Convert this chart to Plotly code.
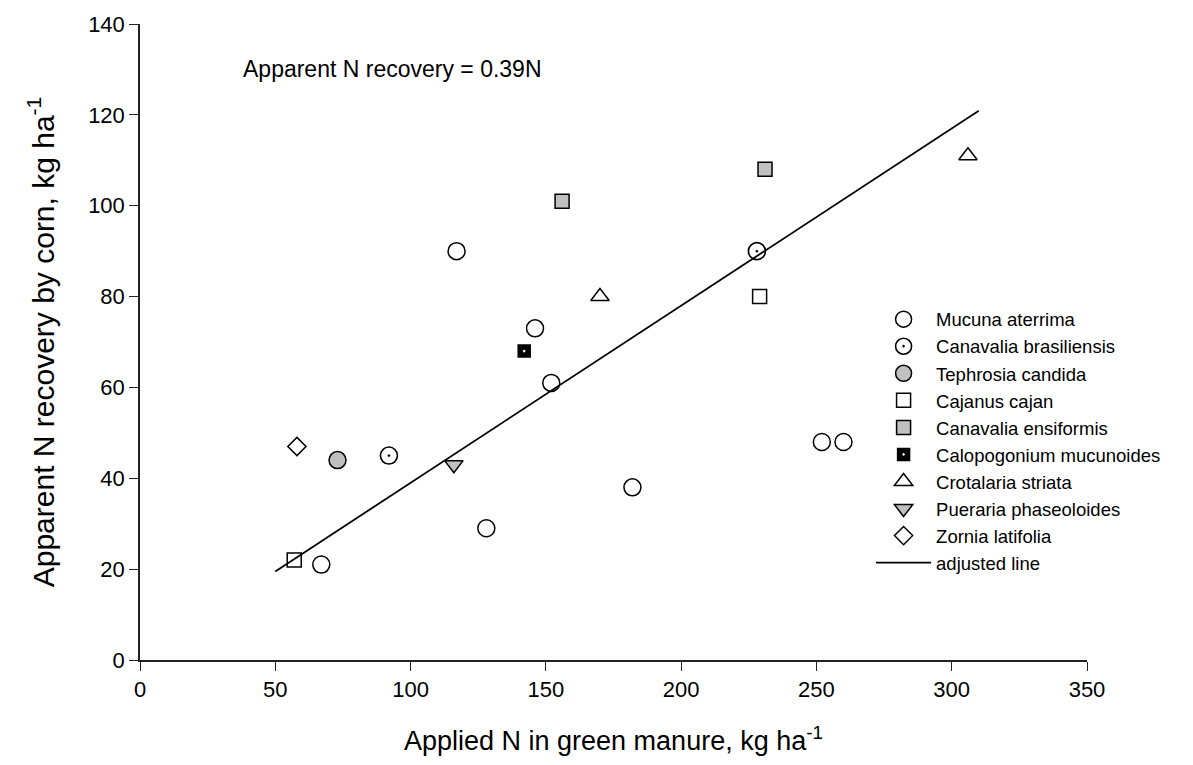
import plotly.graph_objects as go

# Applied N in green manure (kg/ha) and apparent N recovery by corn (kg/ha)
mucuna_x = [117, 146, 152, 67, 128, 182, 252, 260]
mucuna_y = [90, 73, 61, 21, 29, 38, 48, 48]
brasiliensis_x = [92, 228]
brasiliensis_y = [45, 90]
tephrosia_x = [73]
tephrosia_y = [44]
cajanus_x = [57, 229]
cajanus_y = [22, 80]
ensiformis_x = [156, 231]
ensiformis_y = [101, 108]
calopogonium_x = [142]
calopogonium_y = [68]
crotalaria_x = [170, 306]
crotalaria_y = [80, 111]
pueraria_x = [116]
pueraria_y = [43]
zornia_x = [58]
zornia_y = [47]

# Fitted line through the origin: recovery = slope * N
slope = 0.39
fit_x = [50, 310]
fit_y = [slope * v for v in fit_x]

x_ticks = [0, 50, 100, 150, 200, 250, 300, 350]
y_ticks = [0, 20, 40, 60, 80, 100, 120, 140]

FONT = "Liberation Sans, Arial, sans-serif"
GREY = "#c0c0c0"

series = [
    ("Mucuna aterrima", mucuna_x, mucuna_y, "circle", "white", "black", 17, 1.5),
    ("Canavalia brasiliensis", brasiliensis_x, brasiliensis_y, "circle-dot", "white", "black", 17, 1.6),
    ("Tephrosia candida", tephrosia_x, tephrosia_y, "circle", GREY, "black", 17, 1.5),
    ("Cajanus cajan", cajanus_x, cajanus_y, "square", "white", "black", 14, 1.5),
    ("Canavalia ensiformis", ensiformis_x, ensiformis_y, "square", GREY, "black", 14, 1.5),
    ("Calopogonium mucunoides", calopogonium_x, calopogonium_y, "square-dot", "black", "white", 15, 1.5),
    ("Crotalaria striata", crotalaria_x, crotalaria_y, "triangle-up", "white", "black", 16, 1.5),
    ("Pueraria phaseoloides", pueraria_x, pueraria_y, "triangle-down", GREY, "black", 16, 1.5),
    ("Zornia latifolia", zornia_x, zornia_y, "diamond", "white", "black", 14, 1.5),
]

fig = go.Figure()

for name, xs, ys, sym, fill, edge, size, lw in series:
    fig.add_trace(go.Scatter(
        x=xs, y=ys, mode="markers", name=name,
        marker=dict(symbol=sym, color=fill, size=size,
                    line=dict(color=edge, width=lw)),
    ))

fig.add_trace(go.Scatter(
    x=fit_x, y=fit_y, mode="lines", name="adjusted line",
    line=dict(color="black", width=1.8),
))

fig.add_annotation(
    x=37.5, y=130, xref="x", yref="y", xanchor="left", yanchor="middle",
    text="Apparent N recovery = 0.39N", showarrow=False,
    font=dict(family=FONT, size=23, color="black"),
)

axis_common = dict(
    showline=True, linecolor="#222", linewidth=1.5,
    ticks="outside", ticklen=9, tickwidth=1.2, tickcolor="#222",
    showgrid=False, zeroline=False,
    tickfont=dict(family=FONT, size=22, color="black"),
)

fig.update_xaxes(
    range=[0, 350], tickvals=x_ticks,
    title=dict(text="Applied N in green manure, kg ha<sup>-1</sup>",
               font=dict(family=FONT, size=27, color="black"), standoff=30),
    **axis_common,
)
fig.update_yaxes(
    range=[0, 140], tickvals=y_ticks,
    title=dict(text="Apparent N recovery by corn, kg ha<sup>-1</sup>",
               font=dict(family=FONT, size=30, color="black"), standoff=25),
    **axis_common,
)

fig.update_layout(
    width=1193, height=765,
    margin=dict(l=140, r=106, t=20, b=105),
    paper_bgcolor="white", plot_bgcolor="white",
    font=dict(family=FONT, color="black"),
    legend=dict(
        x=0.772, y=0.565, xanchor="left", yanchor="top",
        traceorder="normal",
        font=dict(family=FONT, size=18.5, color="black"),
        bgcolor="rgba(0,0,0,0)", itemwidth=55,
    ),
)

fig.write_html("out.html")
